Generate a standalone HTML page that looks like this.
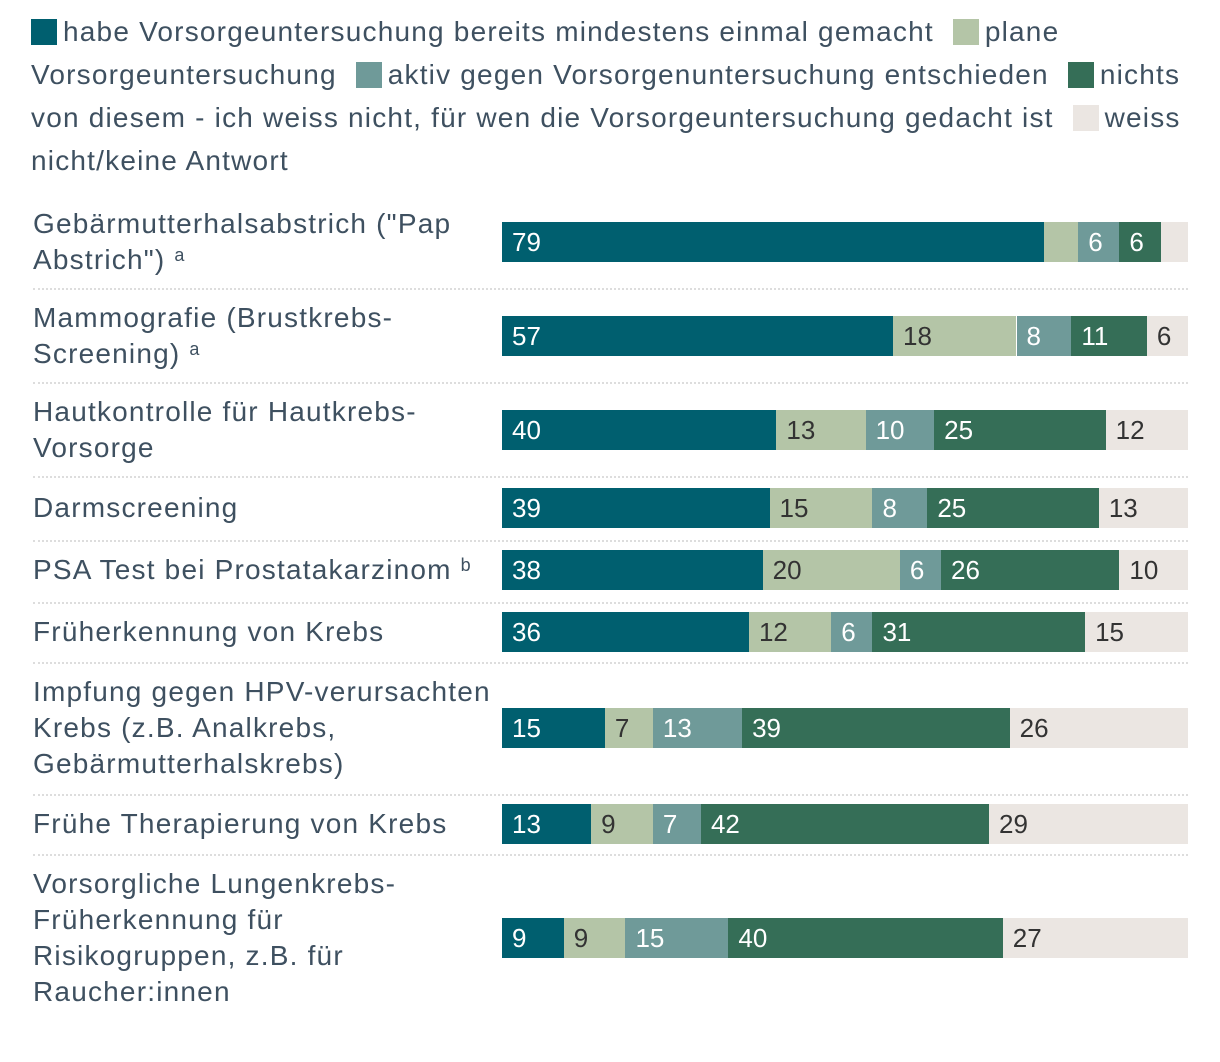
<!DOCTYPE html>
<html><head><meta charset="utf-8"><style>
body{margin:0;width:1220px;height:1062px;background:#fff;position:relative;overflow:hidden;font-family:"Liberation Sans",sans-serif;color:#3e5060}
.lg{position:absolute;left:31px;font-size:28px;letter-spacing:1.2px;line-height:43px;white-space:nowrap}
.sw{display:inline-block;width:26px;height:26px;vertical-align:-4px;margin-right:6px}
.lab{position:absolute;left:33px;font-size:28px;letter-spacing:1.2px;line-height:36px;white-space:nowrap}
.sep{position:absolute;left:33px;width:1155px;border-top:2px dotted #ddd}
.seg{position:absolute;height:40px;font-size:26px;line-height:40px;box-sizing:border-box;padding-left:10px;overflow:hidden;white-space:nowrap}
sup{font-size:18px;vertical-align:8px;line-height:0}
</style></head><body>
<div>
<div class="lg" style="top:10px"><span class="sw" style="background:#005f6f"></span>habe Vorsorgeuntersuchung bereits mindestens einmal gemacht <span class="sw" style="background:#b4c5a7;margin-left:10px"></span>plane</div>
<div class="lg" style="top:53px">Vorsorgeuntersuchung <span class="sw" style="background:#6f9a99;margin-left:10px"></span>aktiv gegen Vorsorgenuntersuchung entschieden <span class="sw" style="background:#356e57;margin-left:10px"></span>nichts</div>
<div class="lg" style="top:96px">von diesem - ich weiss nicht, für wen die Vorsorgeuntersuchung gedacht ist <span class="sw" style="background:#ebe6e2;margin-left:10px"></span>weiss</div>
<div class="lg" style="top:139px">nicht/keine Antwort</div>
</div>
<div id="chart"></div>
<script>
const categories=['Gebärmutterhalsabstrich ("Pap<br>Abstrich") <sup>a</sup>','Mammografie (Brustkrebs-<br>Screening) <sup>a</sup>','Hautkontrolle für Hautkrebs-<br>Vorsorge','Darmscreening','PSA Test bei Prostatakarzinom <sup>b</sup>','Früherkennung von Krebs','Impfung gegen HPV-verursachten<br>Krebs (z.B. Analkrebs,<br>Gebärmutterhalskrebs)','Frühe Therapierung von Krebs','Vorsorgliche Lungenkrebs-<br>Früherkennung für<br>Risikogruppen, z.B. für<br>Raucher:innen'];
const gemacht=[79,57,40,39,38,36,15,13,9];
const plane=[5,18,13,15,20,12,7,9,9];
const aktivGegen=[6,8,10,8,6,6,13,7,15];
const nichts=[6,11,25,25,26,31,39,42,40];
const weissNicht=[4,6,12,13,10,15,26,29,27];
const series=[gemacht,plane,aktivGegen,nichts,weissNicht];
const colors=['#005f6f','#b4c5a7','#6f9a99','#356e57','#ebe6e2'];
const textColors=['#fff','#333','#fff','#fff','#333'];
const rowCenters=[242,336,430,508,570,632,728,824,938];
const sepYs=[288,382,476,540,602,662,794,854];
const x0=502,x1=1188;
const xs=v=>x0+(x1-x0)*v/100;
const c=document.getElementById('chart');
sepYs.forEach(y=>{const d=document.createElement('div');d.className='sep';d.style.top=y+'px';


c.appendChild(d);});
categories.forEach((cat,i)=>{
 const lines=cat.split('<br>').length;
 const l=document.createElement('div');l.className='lab';l.innerHTML=cat;
 l.style.top=(rowCenters[i]-lines*18)+'px';
 
 
 c.appendChild(l);
 let acc=0;
 series.forEach((s,k)=>{
  const v=s[i];const d=document.createElement('div');d.className='seg';
  const a=xs(acc),b=xs(acc+v);acc+=v;
  d.style.left=a+'px';d.style.width=(b-a)+'px';d.style.top=(rowCenters[i]-20)+'px';
  d.style.background=colors[k];d.style.color=textColors[k];
  if(v>=6)d.textContent=v;
  
  
  c.appendChild(d);
 });
});
</script>
</body></html>
